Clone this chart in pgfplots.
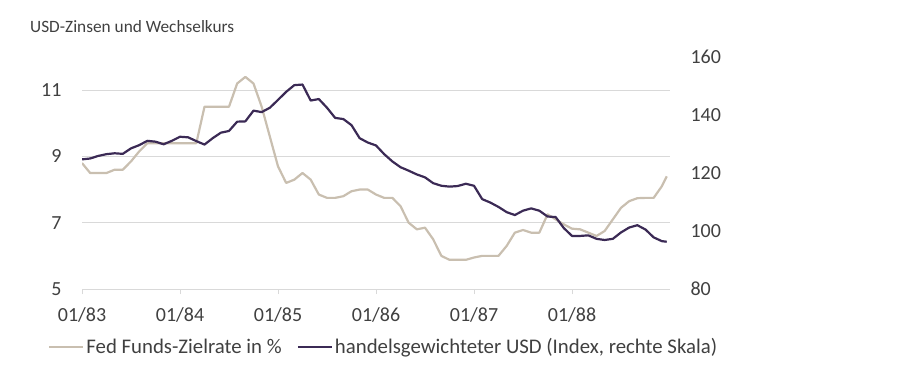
\documentclass[border=0pt]{standalone}
\usepackage{pgfplots}
\pgfplotsset{compat=1.18}
\usepackage{pgfplotstable}
\usepackage{fontspec}
\setmainfont{Carlito}
\definecolor{fed}{HTML}{C9BFB0}
\definecolor{usd}{HTML}{3B2A55}
\definecolor{gridc}{HTML}{D9D9D9}
\definecolor{txt}{HTML}{404040}

\pgfplotstableread{
m v
0 8.8
1 8.5
2 8.5
3 8.5
4 8.6
5 8.6
6 8.85
7 9.15
8 9.4
9 9.4
10 9.4
11 9.4
12 9.4
13 9.4
14 9.4
15 10.5
16 10.5
17 10.5
18 10.5
19 11.2
20 11.4
21 11.2
22 10.5
23 9.6
24 8.7
25 8.2
26 8.3
27 8.5
28 8.3
29 7.85
30 7.75
31 7.75
32 7.8
33 7.95
34 8.0
35 8.0
36 7.85
37 7.75
38 7.75
39 7.5
40 7.0
41 6.8
42 6.85
43 6.5
44 6.0
45 5.88
46 5.88
47 5.88
48 5.95
49 6.0
50 6.0
51 6.0
52 6.3
53 6.7
54 6.78
55 6.7
56 6.7
57 7.25
58 7.1
59 6.95
60 6.82
61 6.8
62 6.7
63 6.6
64 6.75
65 7.1
66 7.45
67 7.65
68 7.74
69 7.75
70 7.75
71 8.1
71.6 8.4
}\fedtab

\pgfplotstableread{
m v
0 124.7
1 125.0
2 125.9
3 126.5
4 126.8
5 126.6
6 128.5
7 129.6
8 131.1
9 130.8
10 129.9
11 131.1
12 132.5
13 132.3
14 131.0
15 129.8
16 132.0
17 133.9
18 134.5
19 137.7
20 137.8
21 141.5
22 141.0
23 142.5
24 145.2
25 148.0
26 150.3
27 150.5
28 145.0
29 145.5
30 142.5
31 139.0
32 138.6
33 136.5
34 132.0
35 130.5
36 129.5
37 126.5
38 124.0
39 122.0
40 120.8
41 119.5
42 118.5
43 116.5
44 115.6
45 115.3
46 115.5
47 116.3
48 115.6
49 111.0
50 109.8
51 108.3
52 106.5
53 105.5
54 107.0
55 107.8
56 107.0
57 105.0
58 104.8
59 101.0
60 98.3
61 98.3
62 98.5
63 97.3
64 96.9
65 97.3
66 99.5
67 101.2
68 102.0
69 100.5
70 97.8
71 96.5
71.6 96.3
}\usdtab

\begin{document}
\begin{tikzpicture}[x=1pt,y=1pt]
\path[use as bounding box] (0,0) rectangle (900,378);
\node[anchor=base west, font=\fontsize{17.3}{19}\selectfont, text=txt, inner sep=0pt] at (30,345) {USD-Zinsen und Wechselkurs};

\pgfplotsset{
  common/.style={
    at={(82pt,89pt)}, anchor=south west,
    width=588pt, height=232pt, scale only axis,
    xmin=0, xmax=72,
    /pgf/number format/assume math mode=true,
    ticklabel style={font=\fontsize{20}{22}\selectfont, text=txt},
  }
}

\begin{axis}[common,
  ymin=5, ymax=12, ytick={5,7,9,11},
  xtick={0,12,24,36,48,60},
  xticklabels={01/83,01/84,01/85,01/86,01/87,01/88},
  axis x line*=bottom, axis y line*=left,
  x axis line style={draw=gridc, line width=1pt, -},
  y axis line style={draw=none},
  ymajorgrids, grid style={draw=gridc, line width=1pt},
  tick align=outside, major tick length=5pt,
  x tick style={draw=gridc, line width=1pt},
  y tick style={draw=none},
  yticklabel style={anchor=east, xshift=-12pt},
  xticklabel style={yshift=-10pt},
  legend columns=2,
  legend style={at={(-0.0578,-0.25)}, anchor=west, draw=none, fill=none,
    inner sep=0pt, font=\fontsize{20.8}{22}\selectfont, text=txt,
    nodes={inner sep=2pt},
    /tikz/every even column/.append style={column sep=13pt}},
  legend cell align=left,
  legend image code/.code={\draw[#1] (0pt,0pt) -- (34pt,0pt);},
]
\addplot[fed, line width=2.2pt, line join=round] table[x=m,y=v] {\fedtab};
\addlegendentry{Fed Funds-Zielrate in \%}
\addlegendimage{usd, line width=2.2pt}
\addlegendentry{handelsgewichteter USD (Index, rechte Skala)}
\end{axis}

\begin{axis}[common,
  ymin=80, ymax=160, ytick={80,100,120,140,160},
  axis x line=none, axis y line*=right,
  y axis line style={draw=none},
  y tick style={draw=none},
  tick align=outside, major tick length=5pt,
  yticklabel style={anchor=west, xshift=12pt},
]
\addplot[usd, line width=2.2pt, line join=round] table[x=m,y=v] {\usdtab};
\end{axis}
\end{tikzpicture}
\end{document}
